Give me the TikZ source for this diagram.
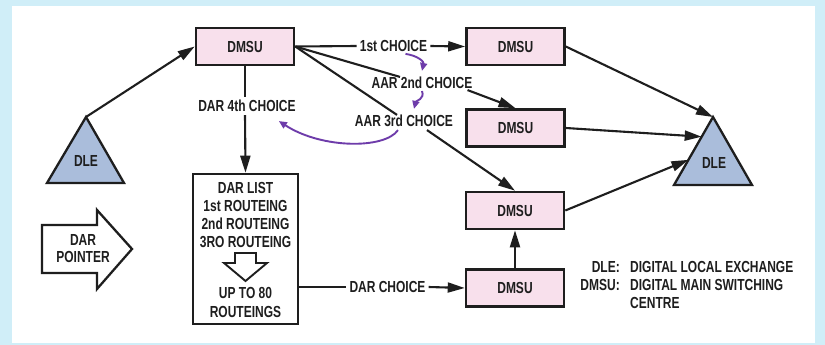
\documentclass[tikz,border=0pt]{standalone}
\usepackage{fontspec}
\setmainfont{Liberation Sans}[FakeStretch=0.75]
\usetikzlibrary{arrows.meta,calc}
\definecolor{bgcyan}{RGB}{208,238,248}
\definecolor{boxpink}{RGB}{248,224,236}
\definecolor{dleblue}{RGB}{170,189,219}
\definecolor{ink}{RGB}{30,30,30}
\definecolor{loopviolet}{RGB}{110,60,170}

\begin{document}
\begin{tikzpicture}[x=1pt,y=-1pt,
  font=\fontsize{16}{18}\selectfont\bfseries,
  every node/.style={inner sep=3pt, text=ink},
  dmsu/.style={draw=ink, line width=2.6pt, fill=boxpink, minimum width=98pt, minimum height=37pt},
  conn/.style={draw=ink, line width=2.1pt},
  arr/.style={conn, -{Triangle[length=17pt,width=10pt]}},
  loopback/.style={draw=loopviolet, line width=1.9pt, -{Triangle[length=8pt,width=7pt]}},
  outline/.style={draw=ink, line width=2.3pt, line join=miter}
]
% frame
\fill[bgcyan] (0,0) rectangle (825,345);
\fill[white] (12,6) rectangle (815,343);
\useasboundingbox (0,0) rectangle (825,345);

% local exchanges
\coordinate (Ltop) at (86,117);
\coordinate (Lbl) at (47,183);
\coordinate (Lbr) at (124,183);
\filldraw[outline, fill=dleblue] (Ltop) -- (Lbr) -- (Lbl) -- cycle;
\node (Ldle) at (86,161) {DLE};

\coordinate (Rtop) at (713,117);
\coordinate (Rbl) at (674,185);
\coordinate (Rbr) at (752,185);
\filldraw[outline, fill=dleblue] (Rtop) -- (Rbr) -- (Rbl) -- cycle;
\node (Rdle) at (714,163) {DLE};
\coordinate (Rin2) at ($(Rtop)!0.29!(Rbl)$);
\coordinate (Rin3) at ($(Rtop)!0.63!(Rbl)$);

% main switching units
\node[dmsu] (A) at (245,46.5) {DMSU};
\node[dmsu] (B) at (515.5,46.5) {DMSU};
\node[dmsu] (C) at (515.5,128) {DMSU};
\node[dmsu] (D) at (515,210.5) {DMSU};
\node[dmsu] (E) at (515,288) {DMSU};

% routing list
\node[draw=ink, line width=2.6pt, fill=white, minimum width=105pt, minimum height=150pt] (list) at (245.5,249) {};
\node[align=center, font=\fontsize{16}{18}\selectfont\bfseries] (listtxt) at (245.5,215)
  {DAR LIST\\1st ROUTEING\\2nd ROUTEING\\3RO ROUTEING};
\filldraw[outline, fill=white, line width=1.9pt]
  (235,253) -- (256,253) -- (256,263) -- (267,263) -- (245.5,281)
  -- (224,263) -- (235,263) -- cycle;
\node[align=center, font=\fontsize{16}{19}\selectfont\bfseries] (uptxt) at (245.5,302.5)
  {UP TO 80\\ROUTEINGS};

% pointer
\filldraw[outline, fill=white] (42,225) -- (97,225) -- (97,210) -- (132,249)
  -- (97,289) -- (97,273) -- (42,273) -- cycle;
\node[align=center, font=\fontsize{16}{17}\selectfont\bfseries] (ptr) at (83,248.5) {DAR\\POINTER};

% choice labels
\node (c1) at (393.5,46) {1st CHOICE};
\node (c2) at (422,83) {AAR 2nd CHOICE};
\node (c3) at (404,121) {AAR 3rd CHOICE};
\node (c4) at (247,106) {DAR 4th CHOICE};
\node (dc) at (387.5,287) {DAR CHOICE};

% connectors
\draw[arr] (Ltop) -- (A.west);
\draw[conn] (A.east) -- (c1.west);
\draw[arr] (c1.east) -- (B.west);
\draw[conn] (A.east) -- ([xshift=-22pt,yshift=-3pt]c2.north);
\draw[arr] ([xshift=-8pt,yshift=2pt]c2.south east) -- (C.north);
\draw[conn] (A.east) -- ([xshift=-7pt,yshift=-3pt]c3.north);
\draw[arr] ([xshift=23pt]c3.south) -- (D.north);
\draw[conn] (A.south) -- (c4.north -| A.south);
\draw[arr] (c4.south -| A.south) -- (list.north);
\draw[conn] (list.east |- dc.west) -- (dc.west);
\draw[arr] (dc.east) -- (E.west);
\draw[arr] (E.north) -- (D.south);
\draw[arr] (B.east) -- (Rtop);
\draw[arr] (C.east) -- (Rin2);
\draw[arr] (D.east) -- (Rin3);

% alternative routing sequence
\draw[loopback] ([xshift=12pt,yshift=1pt]c1.south) .. controls +(13,2) and +(2,-9) .. ([yshift=3pt]c2.north);
\draw[loopback] ([yshift=1pt]c2.south) .. controls +(3,8) and +(2,-8) .. ([xshift=10pt,yshift=3pt]c3.north);
\draw[loopback] ([xshift=-6pt]c3.south) .. controls +(-13,19) and +(43,28) .. ([xshift=-20pt,yshift=-6pt]c4.south east);

% legend
\node[anchor=east] (k1) at (623,267) {DLE:};
\node[anchor=west] (v1) at (627,267) {DIGITAL LOCAL EXCHANGE};
\node[anchor=east] (k2) at (623,284.5) {DMSU:};
\node[anchor=west] (v2) at (627,284.5) {DIGITAL MAIN SWITCHING};
\node[anchor=west] (v3) at (627,302.5) {CENTRE};
\end{tikzpicture}
\end{document}
